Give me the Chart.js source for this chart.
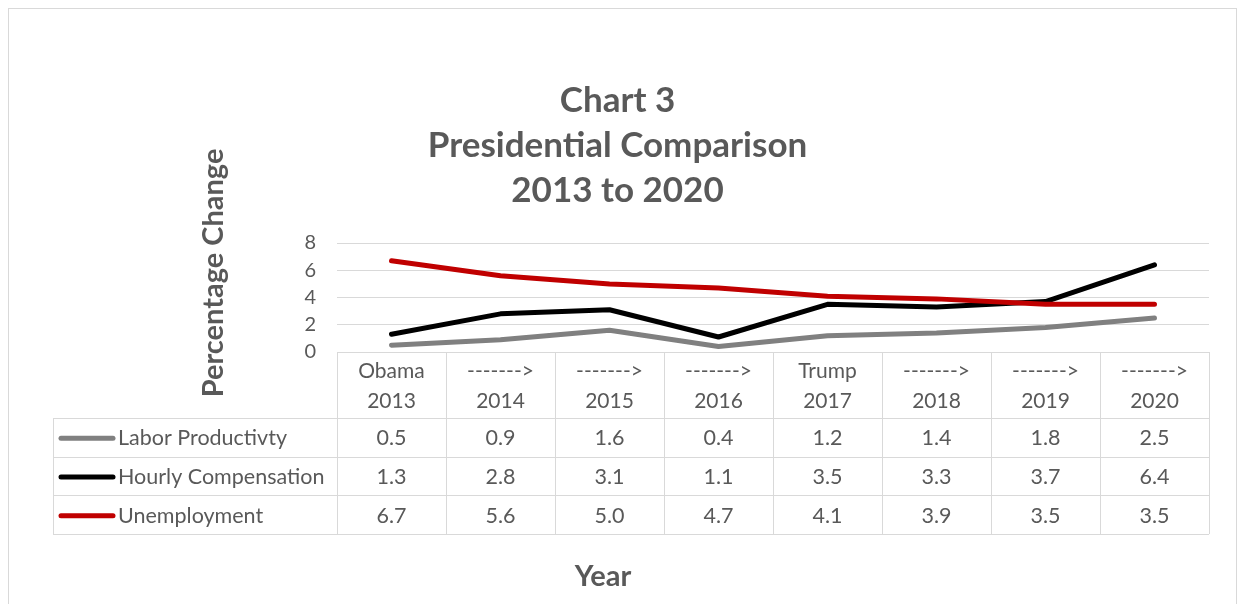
<!DOCTYPE html>
<html>
<head>
<meta charset="utf-8">
<script src="https://cdn.jsdelivr.net/npm/chart.js@4"></script>
<style>
  html, body { margin: 0; padding: 0; background: #fff; }
  #wrap { width: 1239px; height: 604px; }
</style>
</head>
<body>
<div id="wrap"><canvas id="chart3" width="1239" height="604"></canvas></div>
<script>
// data
const years = [['Obama', '2013'], ['------->', '2014'], ['------->', '2015'], ['------->', '2016'],
               ['Trump', '2017'], ['------->', '2018'], ['------->', '2019'], ['------->', '2020']];
const seriesNames = ['Labor Productivty', 'Hourly Compensation', 'Unemployment'];
const laborProductivity = [0.5, 0.9, 1.6, 0.4, 1.2, 1.4, 1.8, 2.5];
const hourlyCompensation = [1.3, 2.8, 3.1, 1.1, 3.5, 3.3, 3.7, 6.4];
const unemployment = [6.7, 5.6, 5.0, 4.7, 4.1, 3.9, 3.5, 3.5];
const yTicks = [0, 2, 4, 6, 8];

const FONT = 'Lato, Calibri, "Open Sans", sans-serif';
const TXT = '#595959';
const GRID = '#d9d9d9';
const colors = ['#808080', '#000000', '#c00000'];

// table under the plot (Excel style data table)
const tableRows = { top: 418, rowH: 38.7, left: 53 };

const dataTable = {
    id: 'dataTable',
    afterDraw(chart) {
        const ctx = chart.ctx;
        const xs = chart.scales.x;
        const area = chart.chartArea;
        const values = [laborProductivity, hourlyCompensation, unemployment];
        const n = years.length;
        const colW = (area.right - area.left) / n;
        const bottom = tableRows.top + tableRows.rowH * 3;

        ctx.save();
        ctx.strokeStyle = GRID;
        ctx.lineWidth = 1;
        ctx.beginPath();
        // horizontal lines
        ctx.moveTo(area.left, area.bottom + 0.5); ctx.lineTo(area.right, area.bottom + 0.5);
        for (let r = 0; r <= 3; r++) {
            const y = Math.round(tableRows.top + r * tableRows.rowH) + 0.5;
            ctx.moveTo(tableRows.left, y); ctx.lineTo(area.right, y);
        }
        // vertical lines
        ctx.moveTo(tableRows.left + 0.5, tableRows.top); ctx.lineTo(tableRows.left + 0.5, bottom);
        for (let c = 0; c <= n; c++) {
            const x = Math.round(area.left + c * colW) + 0.5;
            ctx.moveTo(x, area.bottom); ctx.lineTo(x, bottom);
        }
        ctx.stroke();

        ctx.font = '21.5px ' + FONT;
        ctx.fillStyle = TXT;
        ctx.textBaseline = 'middle';
        for (let r = 0; r < 3; r++) {
            const yc = tableRows.top + r * tableRows.rowH + tableRows.rowH / 2 + 1;
            // legend key
            ctx.strokeStyle = colors[r];
            ctx.lineWidth = 5;
            ctx.lineCap = 'round';
            ctx.beginPath();
            ctx.moveTo(61, yc); ctx.lineTo(113, yc);
            ctx.stroke();
            ctx.textAlign = 'left';
            ctx.fillText(seriesNames[r], 118, yc);
            ctx.textAlign = 'center';
            for (let c = 0; c < n; c++) {
                ctx.fillText(values[r][c].toFixed(1), xs.getPixelForValue(c), yc);
            }
        }

        // axis titles
        ctx.font = 'bold 29px ' + FONT;
        ctx.fillText('Year', 603, 577);
        ctx.translate(214, 273);
        ctx.rotate(-Math.PI / 2);
        ctx.fillText('Percentage Change', 0, 0);
        ctx.setTransform(1, 0, 0, 1, 0, 0);

        // outer chart border
        ctx.strokeStyle = GRID;
        ctx.lineWidth = 1;
        ctx.strokeRect(8.5, 8.5, 1228, 620);
        ctx.restore();
    }
};

new Chart(document.getElementById('chart3').getContext('2d'), {
    type: 'line',
    data: {
        labels: years,
        datasets: [
            { label: seriesNames[0], data: laborProductivity, borderColor: colors[0], order: 2 },
            { label: seriesNames[1], data: hourlyCompensation, borderColor: colors[1], order: 1 },
            { label: seriesNames[2], data: unemployment, borderColor: colors[2], order: 0 }
        ]
    },
    options: {
        responsive: false,
        animation: false,
        layout: { padding: { left: 26, right: 30, top: 0, bottom: 0 } },
        elements: {
            line: { borderWidth: 5, tension: 0, borderCapStyle: 'round', borderJoinStyle: 'round', fill: false },
            point: { radius: 0 }
        },
        scales: {
            y: {
                min: 0,
                max: 8,
                afterBuildTicks: s => { s.ticks = yTicks.map(v => ({ value: v })); },
                afterFit: s => { s.width = 311; },
                border: { display: false },
                grid: { color: GRID, drawTicks: false },
                ticks: { color: TXT, font: { family: FONT, size: 20, lineHeight: 1 }, padding: 21, autoSkip: false }
            },
            x: {
                offset: true,
                afterFit: s => { s.height = 252; },
                border: { display: false },
                grid: { display: false, drawTicks: false },
                ticks: {
                    color: TXT,
                    font: { family: FONT, size: 21, lineHeight: 1.43 },
                    padding: 4,
                    maxRotation: 0,
                    autoSkip: false
                }
            }
        },
        plugins: {
            legend: { display: false },
            tooltip: { enabled: false },
            title: {
                display: true,
                text: ['Chart 3', 'Presidential Comparison', '2013 to 2020'],
                color: TXT,
                font: { family: FONT, size: 35, weight: 'bold', lineHeight: 1.286 },
                padding: { top: 78, bottom: 30 }
            }
        }
    },
    plugins: [dataTable]
});
</script>
</body>
</html>
